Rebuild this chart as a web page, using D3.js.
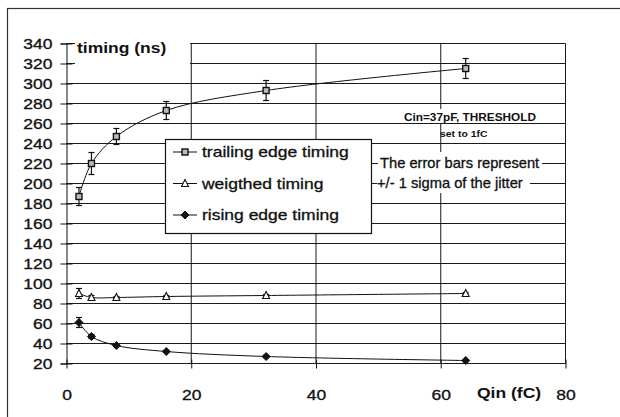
<!DOCTYPE html>
<html>
<head>
<meta charset="utf-8">
<script src="https://cdn.jsdelivr.net/npm/d3@7"></script>
<style>
  body { margin: 0; background: #fff; }
  text { font-family: "Liberation Sans", Arial, sans-serif; fill: #111; }
  text.heavy { stroke: #111; stroke-width: 0.3px; }
</style>
</head>
<body>
<svg id="chart" width="620" height="417"></svg>
<script>
// the data
const charge = [2, 4, 8, 16, 32, 64];               // Qin (fC)
const trailing = [187, 220, 247, 273, 293, 315];     // ns
const trailingErr = [9, 11, 8, 9, 10, 10];
const weighted = [90, 86, 86, 87, 88, 90];
const weightedErr = [5, 2, 1, 1, 1, 1];
const rising = [61, 47, 38, 32, 27, 23];
const risingErr = [5, 2, 1, 1, 1, 1];

const yTicks = [20, 40, 60, 80, 100, 120, 140, 160, 180, 200, 220, 240, 260, 280, 300, 320, 340];
const xTicks = [0, 20, 40, 60, 80];
const seriesNames = ["trailing edge timing", "weigthed timing", "rising edge timing"];

let svg = d3.select("#chart");

// outer frame of the scanned figure
svg.append("rect")
    .attr("x", 7.5).attr("y", 8.5)
    .attr("width", 640).attr("height", 440)
    .attr("fill", "none").attr("stroke", "#333").attr("stroke-width", 1.2);

let x = d3.scaleLinear().domain([0, 80]).range([66.5, 565.5]);
let y = d3.scaleLinear().domain([20, 340]).range([363.5, 43.5]);

// helper : text that is a bit wider than the font (the scan is stretched)
function label(parent, px, py, str, size, weight, sx, anchor) {
    return parent.append("text")
        .attr("class", weight === "normal" ? "heavy" : null)
        .attr("transform", `translate(${px},${py}) scale(${sx},1)`)
        .attr("text-anchor", anchor || "start")
        .attr("font-size", size)
        .attr("font-weight", weight)
        .text(str);
}

// grid
let grid = svg.append("g").attr("stroke", "#1a1a1a").attr("stroke-width", 1);
grid.selectAll(".h").data(yTicks).enter().append("line")
    .attr("x1", x(0)).attr("x2", x(80))
    .attr("y1", d => y(d)).attr("y2", d => y(d));
grid.selectAll(".v").data(xTicks.slice(1)).enter().append("line")
    .attr("x1", d => x(d)).attr("x2", d => x(d))
    .attr("y1", y(20)).attr("y2", y(340));

// axes
let yAxis = svg.append("g")
    .attr("transform", `translate(${x(0)},0)`)
    .call(d3.axisLeft(y).tickValues(yTicks).tickSize(6));
yAxis.select(".domain").attr("stroke", "#111");
yAxis.selectAll(".tick line").attr("x2", -6).attr("x1", 6).attr("stroke", "#111");
yAxis.selectAll(".tick text")
    .attr("class", "heavy")
    .attr("x", null).attr("dy", null)
    .attr("transform", "translate(-14,5) scale(1.25,1)")
    .attr("font-size", 14).attr("font-family", null)
    .attr("fill", "#111");

let xAxis = svg.append("g")
    .attr("transform", `translate(0,${y(20)})`)
    .call(d3.axisBottom(x).tickValues(xTicks).tickSize(5));
xAxis.select(".domain").remove();
xAxis.selectAll(".tick line").attr("y1", -4).attr("y2", 5).attr("stroke", "#111");
xAxis.selectAll(".tick text")
    .attr("class", "heavy")
    .attr("y", null).attr("dy", null)
    .attr("transform", "translate(0,36) scale(1.25,1)")
    .attr("font-size", 14).attr("font-family", null)
    .attr("fill", "#111");

// axis titles
svg.append("rect").attr("x", 75).attr("y", 36).attr("width", 115).attr("height", 31).attr("fill", "#fff");
label(svg, 77, 53, "timing (ns)", 14, "bold", 1.25);
label(svg, 477, 398, "Qin (fC)", 14, "bold", 1.25);

// curves
let line = d3.line()
    .x(d => x(d[0]))
    .y(d => y(d[1]))
    .curve(d3.curveCatmullRom.alpha(0.5));

let series = [
    {name: seriesNames[0], values: trailing, err: trailingErr, marker: "square"},
    {name: seriesNames[1], values: weighted, err: weightedErr, marker: "triangle"},
    {name: seriesNames[2], values: rising, err: risingErr, marker: "diamond"}
];

function drawMarker(g, type, cx, cy) {
    if (type === "square") {
        g.append("rect").attr("x", cx - 3).attr("y", cy - 3).attr("width", 6).attr("height", 6)
            .attr("fill", "#bbb").attr("stroke", "#111").attr("stroke-width", 1.4);
    } else if (type === "triangle") {
        g.append("path").attr("d", `M${cx},${cy - 4}L${cx + 3.5},${cy + 3}L${cx - 3.5},${cy + 3}Z`)
            .attr("fill", "#fff").attr("stroke", "#111").attr("stroke-width", 1.1);
    } else {
        g.append("path").attr("d", `M${cx},${cy - 4}L${cx + 4},${cy}L${cx},${cy + 4}L${cx - 4},${cy}Z`)
            .attr("fill", "#111").attr("stroke", "#111");
    }
}

series.forEach(s => {
    let pts = charge.map((c, i) => [c, s.values[i]]);
    svg.append("path").datum(pts)
        .attr("d", line)
        .attr("fill", "none").attr("stroke", "#111").attr("stroke-width", 1);

    let g = svg.append("g");
    charge.forEach((c, i) => {
        let cx = x(c), v = s.values[i], e = s.err[i];
        g.append("line").attr("x1", cx).attr("x2", cx)
            .attr("y1", y(v - e)).attr("y2", y(v + e))
            .attr("stroke", "#111").attr("stroke-width", 1.2);
        [v - e, v + e].forEach(w => {
            g.append("line").attr("x1", cx - 3).attr("x2", cx + 3)
                .attr("y1", y(w)).attr("y2", y(w))
                .attr("stroke", "#111").attr("stroke-width", 1.2);
        });
        drawMarker(g, s.marker, cx, y(v));
    });
});

// legend
let legend = svg.append("g");
legend.append("rect")
    .attr("x", 165.5).attr("y", 139.5).attr("width", 206).attr("height", 94)
    .attr("fill", "#fff").attr("stroke", "#111").attr("stroke-width", 1.2);
series.forEach((s, i) => {
    let ly = 152 + i * 31.5;
    legend.append("line").attr("x1", 173).attr("x2", 197).attr("y1", ly).attr("y2", ly)
        .attr("stroke", "#111");
    drawMarker(legend, s.marker, 185, ly);
    label(legend, 202, ly + 5, s.name, 14, "normal", 1.25);
});

// annotations
svg.append("rect").attr("x", 400).attr("y", 109).attr("width", 58).attr("height", 14).attr("fill", "#fff");
label(svg, 404, 121, "Cin=37pF, THRESHOLD", 10, "bold", 1.18);
label(svg, 440, 137, "set to 1fC", 9.5, "bold", 1.1);

svg.append("rect").attr("x", 378).attr("y", 152).attr("width", 164).attr("height", 21).attr("fill", "#fff");
svg.append("rect").attr("x", 377).attr("y", 173).attr("width", 153).attr("height", 20).attr("fill", "#fff");
label(svg, 380, 168, "The error bars represent", 14, "normal", 1.05);
label(svg, 377, 188, "+/- 1 sigma of the jitter", 14, "normal", 1.05);
</script>
</body>
</html>
